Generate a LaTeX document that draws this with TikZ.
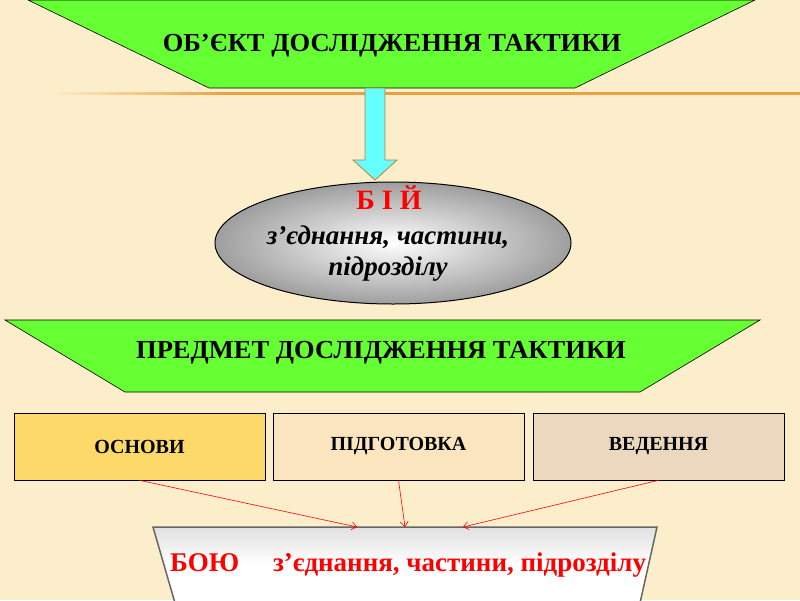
\documentclass[tikz,border=0pt]{standalone}
\usepackage{fontspec}
\setmainfont{Liberation Serif}
\usetikzlibrary{shapes.geometric,arrows.meta}
\definecolor{bg}{HTML}{FDEECB}
\definecolor{grn}{HTML}{66FF33}
\definecolor{cy}{HTML}{66FFFF}
\definecolor{org}{HTML}{E8A040}
\definecolor{b1}{HTML}{FDD96A}
\definecolor{b2}{HTML}{FAE5BE}
\definecolor{b3}{HTML}{EBD8BE}
\tikzset{
  trap/.style={draw=black, fill=grn, line width=0.6pt},
  box/.style={draw=black, line width=0.6pt, minimum width=251pt, minimum height=67pt, font=\bfseries\fontsize{20}{22}\selectfont},
  redarr/.style={draw=red, line width=0.6pt, -{Straight Barb[length=5pt,width=8pt]}},
  ttl/.style={font=\bfseries\fontsize{26}{28}\selectfont, xscale=1.02}
}
\begin{document}
\begin{tikzpicture}[x=1pt,y=-1pt]
\fill[bg] (0,0) rectangle (800,600);
\useasboundingbox (0,0) rectangle (800,600);
% top trapezoid
\draw[trap] (28,0) -- (755,0) -- (575,88) -- (209,88) -- cycle;
\node[ttl, inner sep=0] (t1) at (392,46) {ОБ’ЄКТ ДОСЛІДЖЕННЯ ТАКТИКИ};
% orange line
\shade[left color=bg, right color=org] (50,92) rectangle (230,94.5);
\fill[org] (230,92) rectangle (800,94.5);
% cyan arrow
\draw[fill=cy, draw=org!80!black, line width=0.8pt] (365,88) -- (385,88) -- (385,160) -- (397,160) -- (375,180) -- (353,160) -- (365,160) -- cycle;
% ellipse
\node[ellipse, draw=black, line width=1pt, minimum width=356pt, minimum height=122pt,
  inner color=white, outer color=black!38] (boy) at (393,243) {};
\node[text=red, font=\bfseries\fontsize{28}{30}\selectfont, inner sep=0] (b1t) at (389,198) {Б І Й};
\node[font=\bfseries\itshape\fontsize{27}{30}\selectfont, inner sep=0] (b2t) at (388,237) {з'єднання, частини,};
\node[font=\bfseries\itshape\fontsize{27}{30}\selectfont, inner sep=0] (b3t) at (388,269) {підрозділу};
% second trapezoid
\draw[trap] (5,320) -- (760,320) -- (640,392) -- (125,392) -- cycle;
\node[ttl, inner sep=0] (t2) at (381,353) {ПРЕДМЕТ ДОСЛІДЖЕННЯ ТАКТИКИ};
% boxes
\node[box, fill=b1] (o) at (139.5,446.5) {ОСНОВИ};
\node[box, fill=b2] (p) at (398.5,446.5) {ПІДГОТОВКА};
\node[box, fill=b3] (v) at (658.5,446.5) {ВЕДЕННЯ};
% bottom trapezoid
\shade[top color=black!12, bottom color=white, middle color=white, draw=black!60, line width=1.5pt]
  (153,527) -- (657,527) -- (640,603) -- (175,603) -- cycle;
\coordinate (e1) at (357,527);
\coordinate (e2) at (405,527);
\coordinate (e3) at (463,527);
\node[text=red, font=\bfseries\fontsize{27}{29}\selectfont, inner sep=0, anchor=west] (bo) at (170,565) {БОЮ\quad\ з'єднання, частини, підрозділу};
\draw[redarr] (o.south) -- (e1);
\draw[redarr] (p.south) -- (e2);
\draw[redarr] (v.south) -- (e3);
\end{tikzpicture}
\end{document}
